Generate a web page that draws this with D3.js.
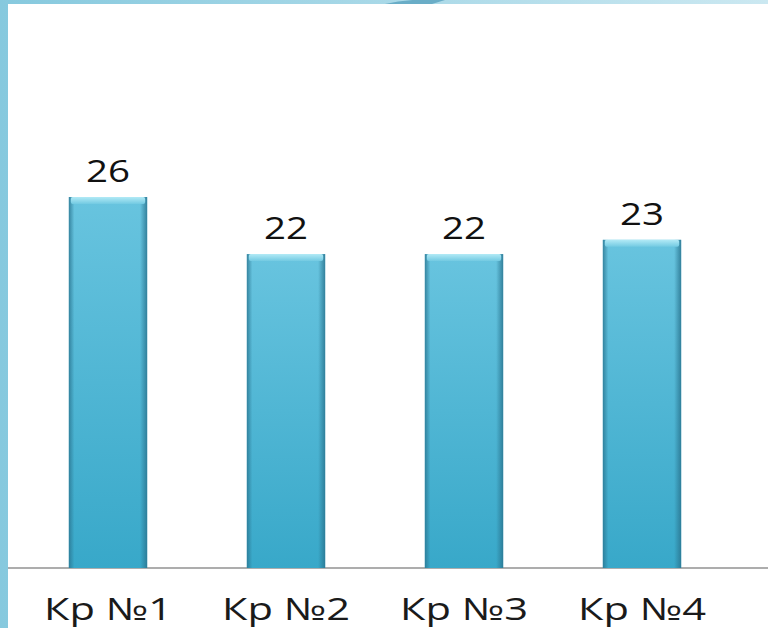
<!DOCTYPE html>
<html>
<head>
<meta charset="utf-8">
<script src="https://cdn.jsdelivr.net/npm/d3@7"></script>
<style>
  body { margin: 0; background: #fff; }
  svg { display: block; }
</style>
</head>
<body>
<div id="chart"></div>
<script>
const categories = ['Кр №1', 'Кр №2', 'Кр №3', 'Кр №4'];
const values = [26, 22, 22, 23];

const width = 768;
const height = 628;
const baseY = 568;

const svg = d3.select('#chart').append('svg')
    .attr('width', width)
    .attr('height', height);

const defs = svg.append('defs');

// slide frame gradient
const frame = defs.append('linearGradient').attr('id', 'frame')
    .attr('x1', 0).attr('y1', 0).attr('x2', 1).attr('y2', 0);
frame.append('stop').attr('offset', 0).attr('stop-color', '#86c9de');
frame.append('stop').attr('offset', 1).attr('stop-color', '#cbe8f1');

// bar body: vertical gradient
const body = defs.append('linearGradient').attr('id', 'barBody')
    .attr('x1', 0).attr('y1', 0).attr('x2', 0).attr('y2', 1);
body.append('stop').attr('offset', 0).attr('stop-color', '#68c4df');
body.append('stop').attr('offset', 1).attr('stop-color', '#38a8c9');

// bar sides: darker edges
const sides = defs.append('linearGradient').attr('id', 'barSides')
    .attr('x1', 0).attr('y1', 0).attr('x2', 1).attr('y2', 0);
sides.append('stop').attr('offset', 0).attr('stop-color', '#2a7590').attr('stop-opacity', 0.8);
sides.append('stop').attr('offset', 0.07).attr('stop-color', '#2a7590').attr('stop-opacity', 0);
sides.append('stop').attr('offset', 0.91).attr('stop-color', '#2a7590').attr('stop-opacity', 0);
sides.append('stop').attr('offset', 1).attr('stop-color', '#2a7590').attr('stop-opacity', 0.85);

// top bevel
const bevel = defs.append('linearGradient').attr('id', 'barBevel')
    .attr('x1', 0).attr('y1', 0).attr('x2', 0).attr('y2', 1);
bevel.append('stop').attr('offset', 0).attr('stop-color', '#b2eaf6');
bevel.append('stop').attr('offset', 1).attr('stop-color', '#72cae2');

// background frame
svg.append('rect').attr('width', width).attr('height', height).attr('fill', 'url(#frame)');
svg.append('rect').attr('x', 8).attr('y', 4).attr('width', width - 8).attr('height', height - 4).attr('fill', '#fff');
svg.append('path')
    .attr('d', 'M385,4 Q410,-2 445,0 L432,4 Z')
    .attr('fill', '#3d8fb0').attr('opacity', 0.6);

const x = d3.scaleBand()
    .domain(categories)
    .range([19, 731])
    .paddingInner(0.56)
    .paddingOuter(0.28);

const y = d3.scaleLinear()
    .domain([0, 26])
    .range([baseY, 197]);

const xAxis = g => g
    .attr('transform', `translate(0, ${baseY})`)
    .call(d3.axisBottom(x).tickSize(0).tickPadding(30))
    .call(g => g.select('.domain').remove())
    .call(g => g.selectAll('text')
        .attr('font-family', '"Open Sans", sans-serif')
        .attr('font-size', 31)
        .attr('textLength', 128)
        .attr('lengthAdjust', 'spacingAndGlyphs')
        .attr('fill', '#1a1a1a'));

// base line
svg.append('line')
    .attr('x1', 8).attr('x2', width)
    .attr('y1', baseY).attr('y2', baseY)
    .attr('stroke', '#adadad').attr('stroke-width', 2);

const bars = svg.append('g')
    .selectAll('g').data(values).join('g')
    .attr('transform', (d, i) => `translate(${x(categories[i])}, ${y(d)})`);

bars.append('rect')
    .attr('width', x.bandwidth())
    .attr('height', d => y(0) - y(d))
    .attr('fill', 'url(#barBody)');

bars.append('rect')
    .attr('width', x.bandwidth())
    .attr('height', d => y(0) - y(d))
    .attr('fill', 'url(#barSides)');

bars.append('rect')
    .attr('x', 2)
    .attr('width', x.bandwidth() - 4)
    .attr('height', 7)
    .attr('rx', 2)
    .attr('fill', 'url(#barBevel)');

svg.append('g').call(xAxis);

// value labels
svg.append('g')
    .selectAll('text').data(values).join('text')
    .attr('x', (d, i) => x(categories[i]) + x.bandwidth() / 2 - 22)
    .attr('y', d => y(d) - 15)
    .attr('font-family', '"Open Sans", sans-serif')
    .attr('font-size', 31)
    .attr('textLength', 44)
    .attr('lengthAdjust', 'spacingAndGlyphs')
    .attr('fill', '#111')
    .text(d => d);
</script>
</body>
</html>
